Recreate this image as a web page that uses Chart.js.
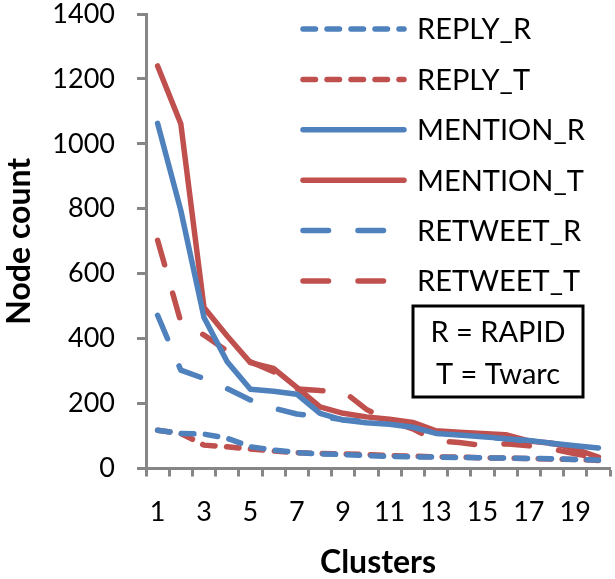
<!DOCTYPE html>
<html>
<head>
<meta charset="utf-8">
<script src="https://cdn.jsdelivr.net/npm/chart.js@4.4.0/dist/chart.umd.min.js"></script>
<style>
  html, body { margin: 0; padding: 0; background: #fff; }
</style>
</head>
<body>
<canvas id="clusterChart" width="615" height="579"></canvas>
<script>
// Node counts per cluster
const clusters = ['1', '2', '3', '4', '5', '6', '7', '8', '9', '10',
                  '11', '12', '13', '14', '15', '16', '17', '18', '19', '20'];
const replyR   = [118, 108, 106, 93, 67, 57, 49, 45, 43, 40, 37, 36, 35, 34, 33, 32, 31, 30, 28, 26];
const replyT   = [118, 108, 72, 67, 60, 54, 49, 46, 45, 43, 40, 38, 36, 35, 33, 32, 31, 29, 28, 25];
const mentionR = [1063, 795, 465, 329, 244, 238, 229, 170, 149, 141, 136, 127, 108, 103, 98, 92, 86, 78, 70, 63];
const mentionT = [1240, 1062, 496, 408, 326, 308, 250, 190, 170, 159, 152, 142, 116, 112, 108, 104, 85, 78, 60, 35];
const retweetR = [472, 303, 277, 246, 211, 186, 168, 160, 150, 145, 140, 130, 112, 105, 97, 92, 84, 76, 68, 62];
const retweetT = [703, 452, 411, 362, 329, 298, 245, 240, 238, 182, 146, 122, 86, 80, 71, 76, 70, 60, 45, 32];
const yTicks   = [0, 200, 400, 600, 800, 1000, 1200, 1400];

const blue = '#4F81BD';
const red = '#C0504D';
const axisGrey = '#868686';
const shortDash = [12.5, 11.5];
const longDash = [25.5, 29.5];
const lineW = 5.5;

function series(label, data, color, dash) {
    return {
        label: label,
        data: data,
        borderColor: color,
        backgroundColor: color,
        borderWidth: lineW,
        borderDash: dash,
        borderCapStyle: 'round',
        borderJoinStyle: 'round',
        pointRadius: 0,
        tension: 0,
        fill: false
    };
}

// legend and the R/T note sit inside the plot area
const innerLegend = {
    id: 'innerLegend',
    afterDatasetsDraw(chart) {
        const ctx = chart.ctx;
        ctx.save();
        chart.data.datasets.forEach((ds, i) => {
            const y = 29 + i * 50.4;
            ctx.strokeStyle = ds.borderColor;
            ctx.lineWidth = lineW;
            ctx.lineCap = 'round';
            ctx.setLineDash(ds.borderDash);
            ctx.beginPath();
            ctx.moveTo(303, y);
            ctx.lineTo(404, y);
            ctx.stroke();
            ctx.setLineDash([]);
            ctx.fillStyle = '#000';
            ctx.font = '29px Lato';
            ctx.textBaseline = 'middle';
            ctx.textAlign = 'left';
            ctx.fillText(ds.label, 417, y + 1);
        });

        ctx.strokeStyle = '#000';
        ctx.lineWidth = 3;
        ctx.strokeRect(413, 306, 170, 91);
        ctx.font = '29px Lato';
        ctx.textAlign = 'center';
        ctx.textBaseline = 'alphabetic';
        ctx.fillText('R = RAPID', 498, 342);
        ctx.fillText('T = Twarc', 498, 384);
        ctx.restore();
    }
};

const ctx = document.getElementById('clusterChart').getContext('2d');
new Chart(ctx, {
    type: 'line',
    data: {
        labels: clusters,
        datasets: [
            series('REPLY_R', replyR, blue, shortDash),
            series('REPLY_T', replyT, red, shortDash),
            series('MENTION_R', mentionR, blue, []),
            series('MENTION_T', mentionT, red, []),
            series('RETWEET_R', retweetR, blue, longDash),
            series('RETWEET_T', retweetT, red, longDash)
        ]
    },
    options: {
        responsive: false,
        animation: false,
        layout: { padding: { top: 14, right: 5, left: 0, bottom: 0 } },
        scales: {
            x: {
                offset: true,
                grid: {
                    offset: true,
                    drawOnChartArea: false,
                    tickLength: 8,
                    tickWidth: 3,
                    tickColor: axisGrey
                },
                border: { display: true, color: axisGrey, width: 3 },
                ticks: {
                    autoSkip: false,
                    maxRotation: 0,
                    padding: 22,
                    color: '#000',
                    font: { family: 'Lato', size: 27, lineHeight: 1 },
                    callback: (v, i) => (i % 2 === 0 ? clusters[i] : '')
                },
                title: {
                    display: true,
                    text: 'Clusters',
                    color: '#000',
                    font: { family: 'Lato', size: 32, weight: 'bold', lineHeight: 1 },
                    padding: { top: 0, bottom: 0 }
                },
                afterFit: s => {
                    s.height = 110.5;
                    s.paddingLeft = 0;
                    s.paddingRight = 0;
                }
            },
            y: {
                min: 0,
                max: 1400,
                afterBuildTicks: s => { s.ticks = yTicks.map(v => ({ value: v })); },
                grid: {
                    drawOnChartArea: false,
                    tickLength: 9,
                    tickWidth: 3,
                    tickColor: axisGrey
                },
                border: { display: true, color: axisGrey, width: 3 },
                ticks: {
                    padding: 22,
                    color: '#000',
                    font: { family: 'Lato', size: 27, lineHeight: 1 },
                    callback: v => String(v)
                },
                title: {
                    display: true,
                    text: 'Node count',
                    color: '#000',
                    font: { family: 'Lato', size: 32, weight: 'bold', lineHeight: 1.2 },
                    padding: { top: 0, bottom: 0 }
                },
                afterFit: s => {
                    s.width = 146;
                    s.paddingTop = 0;
                    s.paddingBottom = 0;
                }
            }
        },
        plugins: {
            legend: { display: false },
            title: { display: false },
            tooltip: { enabled: false }
        }
    },
    plugins: [innerLegend]
});
</script>
</body>
</html>
